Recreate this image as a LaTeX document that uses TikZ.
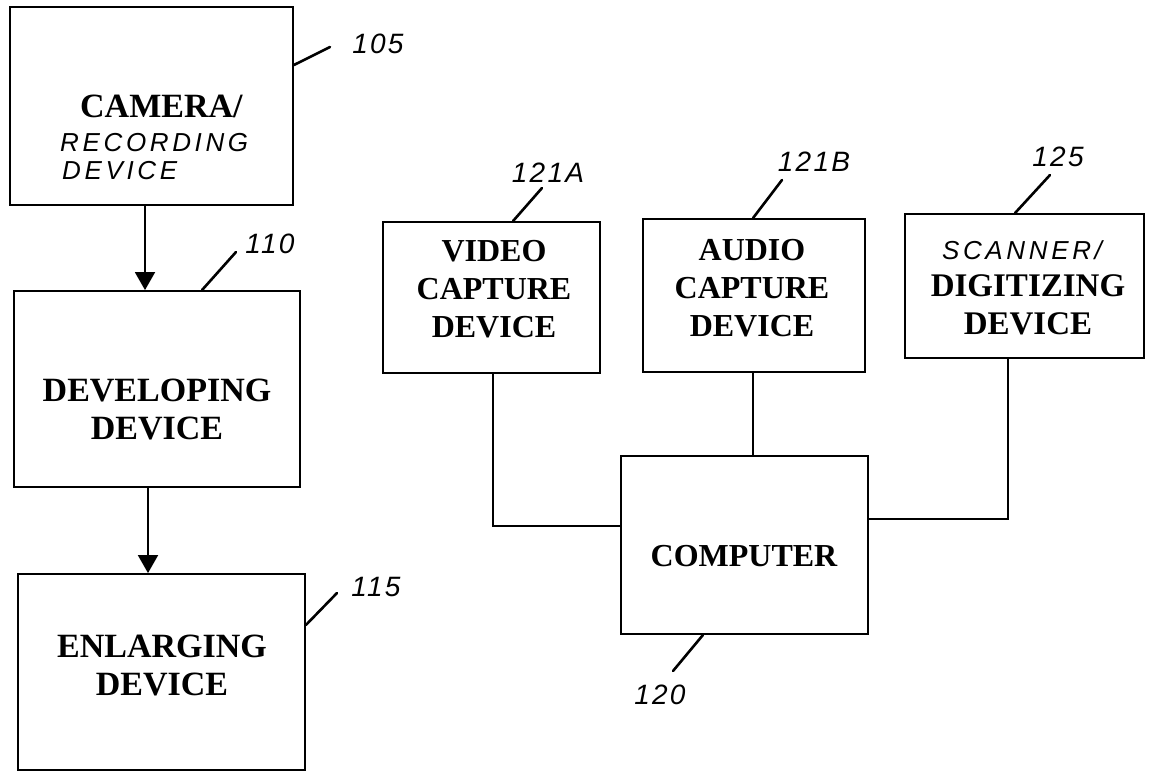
\documentclass[tikz,border=0pt]{standalone}
\usepackage{fontspec}
\setmainfont{Liberation Serif}
\newfontfamily\handfont[LetterSpace=14]{Liberation Sans}
\newfontfamily\numfont[LetterSpace=8]{Liberation Sans}
\usetikzlibrary{arrows.meta}
\tikzset{
  box/.style={draw, line width=1.8pt, inner sep=0pt},
  bt/.style={font=\bfseries\fontsize{32}{38}\selectfont, align=center, inner sep=0pt},
  btl/.style={font=\bfseries\fontsize{34}{38}\selectfont, align=center, inner sep=0pt},
  hw/.style={font=\handfont\itshape\fontsize{26}{30}\selectfont, inner sep=0pt},
  num/.style={font=\numfont\itshape\fontsize{28}{30}\selectfont, inner sep=0pt},
  lead/.style={line width=2.6pt, line cap=round},
  conn/.style={line width=1.8pt},
  arr/.style={conn, -{Triangle[length=18pt,width=20pt]}}
}
\begin{document}
\begin{tikzpicture}[x=1pt,y=-1pt]
\useasboundingbox[fill=white] (0,0) rectangle (1151,775);
% boxes
\node[box, minimum width=283pt, minimum height=198pt] (cam) at (151.5,106) {};
\node[box, minimum width=286pt, minimum height=196pt] (dev) at (157,389) {};
\node[box, minimum width=287pt, minimum height=196pt] (enl) at (161.5,672) {};
\node[box, minimum width=217pt, minimum height=151pt] (vid) at (491.5,297.5) {};
\node[box, minimum width=222pt, minimum height=153pt] (aud) at (754,295.5) {};
\node[box, minimum width=239pt, minimum height=144pt] (scn) at (1024.5,286) {};
\node[box, minimum width=247pt, minimum height=178pt] (com) at (744.5,545) {};
% texts
\node[btl, anchor=base west] (camT1) at (80,118) {CAMERA/};
\node[hw, anchor=base west] (camT2) at (60,152) {RECORDING};
\node[hw, anchor=base west] (camT3) at (62,180) {DEVICE};
\node[btl] (devT) at (157,410) {DEVELOPING\\DEVICE};
\node[btl] (enlT) at (162,665) {ENLARGING\\DEVICE};
\node[bt] (vidT) at (494,289) {VIDEO\\CAPTURE\\DEVICE};
\node[bt] (audT) at (752,288) {AUDIO\\CAPTURE\\DEVICE};
\node[hw] (scnT1) at (1022,250) {SCANNER/};
\node[bt, font=\bfseries\fontsize{33}{38}\selectfont] (scnT2) at (1028,304.5) {DIGITIZING\\DEVICE};
\node[bt] (comT) at (744,556) {COMPUTER};
% arrows
\draw[arr] ([xshift=-6.5pt]cam.south) -- ([xshift=-6.5pt]cam.south |- dev.north);
\draw[arr] ([xshift=-9pt]dev.south) -- ([xshift=-9pt]dev.south |- enl.north);
% connectors
\draw[conn] ([xshift=1.5pt]vid.south) |- ([yshift=19pt]com.west);
\draw[conn] ([xshift=-1pt]aud.south) -- ([xshift=-1pt]aud.south |- com.north);
\draw[conn] ([xshift=-16.5pt]scn.south) |- ([yshift=26pt]com.east);
% reference numerals
\coordinate (e105) at (330,47);
\coordinate (e110) at (236,252);
\coordinate (e115) at (337,593);
\coordinate (e121a) at (542,188);
\coordinate (e121b) at (782,180);
\coordinate (e125) at (1050,175);
\coordinate (e120) at (673,671);
\draw[lead] ([yshift=41pt]cam.east) -- (e105);
\draw[lead] ([xshift=45pt]dev.north) -- (e110);
\draw[lead] ([yshift=47pt]enl.east) -- (e115);
\draw[lead] ([xshift=21.5pt]vid.north) -- (e121a);
\draw[lead] ([xshift=-1pt]aud.north) -- (e121b);
\draw[lead] ([xshift=-9.5pt]scn.north) -- (e125);
\draw[lead] ([xshift=-41.5pt]com.south) -- (e120);
\node[num] (n105) at (378,44) {105};
\node[num] (n110) at (270,244) {110};
\node[num] (n115) at (376,587) {115};
\node[num] (n121a) at (548,173) {121A};
\node[num] (n121b) at (814,162) {121B};
\node[num] (n125) at (1058,157) {125};
\node[num] (n120) at (660,695) {120};
\end{tikzpicture}
\end{document}
